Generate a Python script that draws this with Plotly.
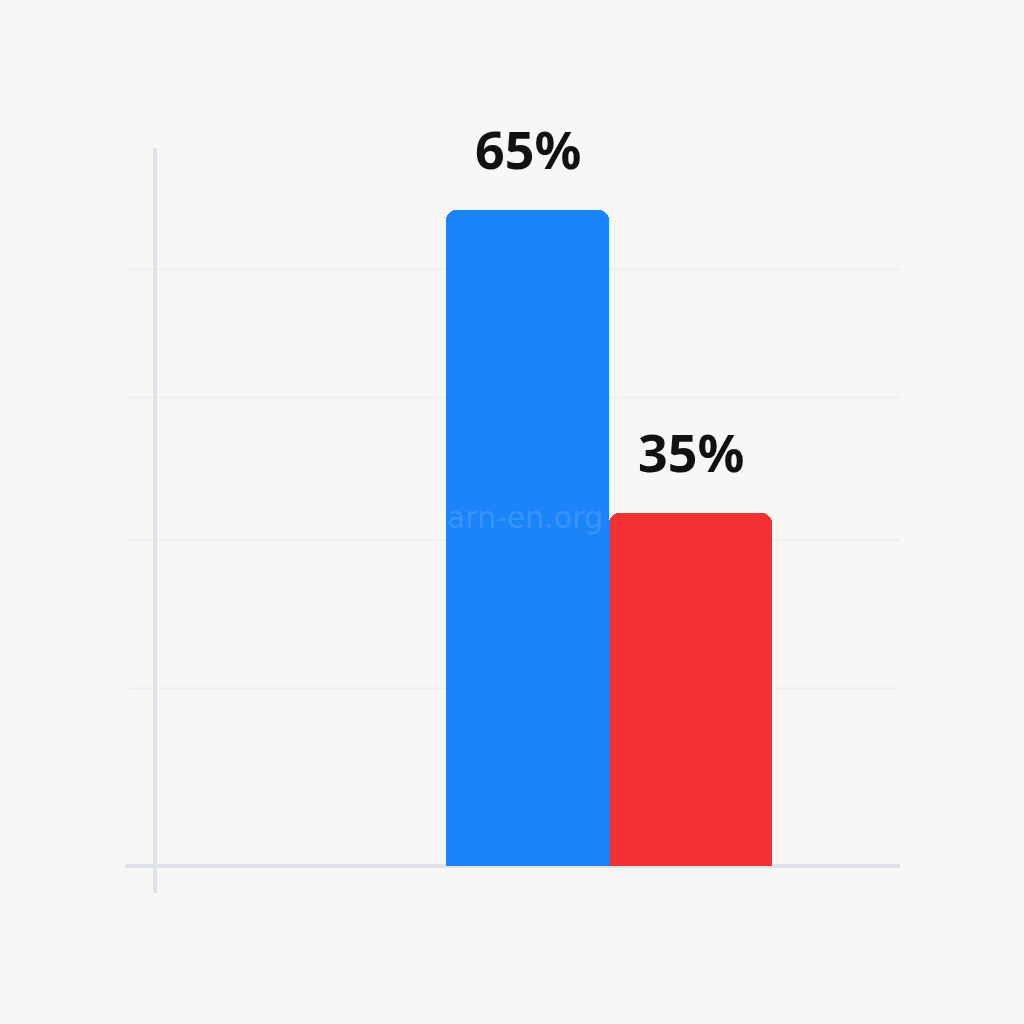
import plotly.graph_objects as go

# data
categories = ["A", "B"]
values = [65, 35]
labels = ["65%", "35%"]
bar_colors = ["#1a84f8", "#f23232"]
grid_vals = [17.6, 32.3, 46.4, 59.1]

BG = "#f7f7f5"
LINE = "#dfe2e8"

fig = go.Figure()
fig.add_trace(go.Bar(
    x=[0, 1],
    y=values,
    width=1.0,
    marker=dict(color=bar_colors, line=dict(width=0), cornerradius=10),
    hoverinfo="skip",
))

# value labels above the bars
for i, (v, t) in enumerate(zip(values, labels)):
    fig.add_annotation(
        x=i, y=v, text="<b>" + t + "</b>", showarrow=False,
        yanchor="bottom", yshift=24,
        font=dict(family="Noto Sans", size=52, color="#111111"),
    )

# faint watermark
fig.add_annotation(
    x=-0.1, y=34.5, text="learn-en.org", showarrow=False,
    font=dict(family="DejaVu Sans", size=30, color="rgba(255,255,255,0.15)"),
)

# gridlines (uneven, as in the picture)
for g in grid_vals:
    fig.add_shape(type="line", xref="paper", yref="y", x0=0.006, x1=1.0,
                  y0=g, y1=g, line=dict(color="#eceeef", width=1.5), layer="below")

# axis lines
fig.add_shape(type="line", xref="paper", yref="paper", x0=0.0387, x1=0.0387,
              y0=0.0, y1=1.0, line=dict(color=LINE, width=4), layer="below")
fig.add_shape(type="line", xref="paper", yref="y", x0=0.0, x1=1.0,
              y0=0, y1=0, line=dict(color=LINE, width=4), layer="below")

fig.update_layout(
    width=1024, height=1024,
    margin=dict(l=125, r=124, t=148, b=131),
    paper_bgcolor=BG, plot_bgcolor=BG,
    showlegend=False,
    bargap=0,
)
fig.update_xaxes(range=[-2.47, 2.285], visible=False, showgrid=False, zeroline=False)
fig.update_yaxes(range=[-2.67, 71.1], visible=False, showgrid=False, zeroline=False)

fig.write_html("out.html", config={"displayModeBar": False},
               post_script="document.body.style.margin='0';document.body.style.background='#f7f7f5';")
